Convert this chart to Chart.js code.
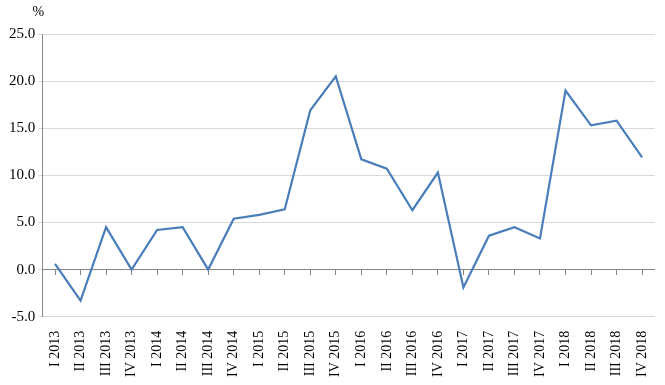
<!DOCTYPE html>
<html>
<head>
<meta charset="utf-8">
<script src="https://cdn.jsdelivr.net/npm/chart.js@4"></script>
<style>
  html, body { margin: 0; padding: 0; background: #fff; }
  #wrap { width: 665px; height: 385px; }
</style>
</head>
<body>
<div id="wrap"><canvas id="grafico"></canvas></div>
<script>
const quarters = ['I 2013', 'II 2013', 'III 2013', 'IV 2013',
                  'I 2014', 'II 2014', 'III 2014', 'IV 2014',
                  'I 2015', 'II 2015', 'III 2015', 'IV 2015',
                  'I 2016', 'II 2016', 'III 2016', 'IV 2016',
                  'I 2017', 'II 2017', 'III 2017', 'IV 2017',
                  'I 2018', 'II 2018', 'III 2018', 'IV 2018'];
const values = [0.6, -3.3, 4.5, 0.0,
                4.2, 4.5, 0.0, 5.4,
                5.8, 6.4, 16.9, 20.5,
                11.7, 10.7, 6.3, 10.3,
                -1.9, 3.6, 4.5, 3.3,
                19.0, 15.3, 15.8, 11.9];
const yMin = -5, yMax = 25, yStep = 5;
const unitLabel = '%';

const serif = "'Liberation Serif', 'Times New Roman', serif";

// "%" label above the y axis
const unitPlugin = {
  id: 'unitLabel',
  afterDraw(chart) {
    const c = chart.ctx, a = chart.chartArea;
    c.save();
    c.font = '14px ' + serif;
    c.fillStyle = '#000';
    c.textAlign = 'center';
    c.textBaseline = 'middle';
    c.fillText(unitLabel, a.left - 4, a.top - 22);
    c.restore();
  }
};

const ctx = document.getElementById('grafico').getContext('2d');
const chart = new Chart(ctx, {
  type: 'line',
  data: {
    labels: quarters,
    datasets: [{
      data: values,
      borderColor: '#4a7ebb',
      borderWidth: 2.2,
      pointRadius: 0,
      tension: 0,
      fill: false
    }]
  },
  options: {
    responsive: true,
    maintainAspectRatio: false,
    animation: false,
    layout: { padding: { top: 34, right: 5, left: 6, bottom: 2 } },
    plugins: {
      legend: { display: false },
      tooltip: { enabled: false }
    },
    scales: {
      x: {
        offset: true,
        grid: { display: false },
        border: { display: false },
        ticks: {
          autoSkip: false,
          minRotation: 90,
          maxRotation: 90,
          color: '#000',
          padding: 6,
          font: { family: serif, size: 14 }
        }
      },
      x2: {
        position: { y: 0 },
        offset: true,
        grid: { drawOnChartArea: false, drawTicks: true, tickLength: 5, color: '#868686' },
        border: { display: true, color: '#868686', width: 1 },
        ticks: { display: false }
      },
      y: {
        min: yMin,
        max: yMax,
        grid: { color: '#d9d9d9', drawTicks: true, tickLength: 4 },
        border: { display: true, color: '#868686' },
        ticks: {
          stepSize: yStep,
          color: '#000',
          padding: 3,
          font: { family: serif, size: 15 },
          callback: v => v.toFixed(1)
        }
      }
    }
  },
  plugins: [unitPlugin]
});
</script>
</body>
</html>
